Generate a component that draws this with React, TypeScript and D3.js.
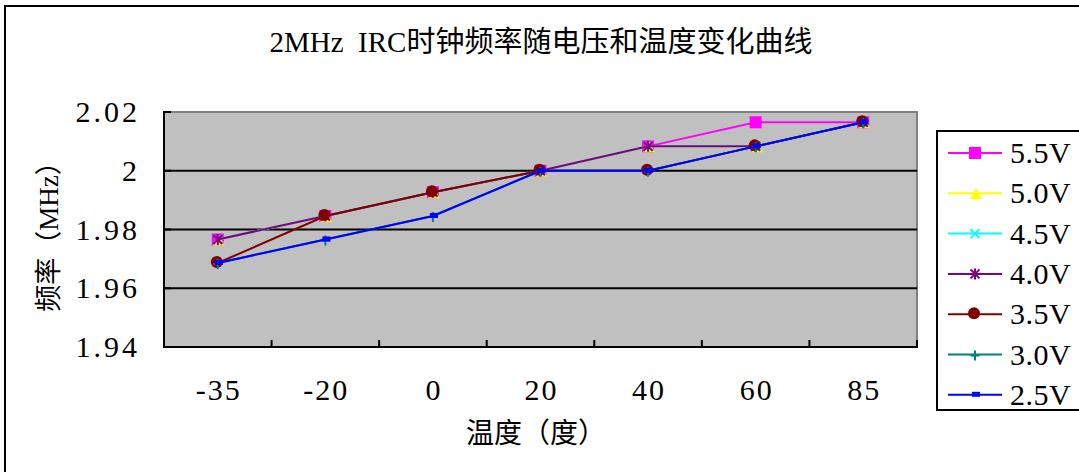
import React from "react";
import * as d3 from "d3";

const categories = ["-35", "-20", "0", "20", "40", "60", "85"];
const yTicks = [1.94, 1.96, 1.98, 2.0, 2.02];
const yTickLabels = ["1.94", "1.96", "1.98", "2", "2.02"];
const seriesNames = ["5.5V", "5.0V", "4.5V", "4.0V", "3.5V", "3.0V", "2.5V"];
const v55 = [1.9766, 1.9846, 1.9927, 2.0, 2.0083, 2.0165, 2.0165];
const v50 = [1.9766, 1.9846, 1.9927, 2.0, 2.0083, 2.0083, 2.0165];
const v45 = [1.9766, 1.9846, 1.9927, 2.0, 2.0083, 2.0083, 2.0165];
const v40 = [1.9766, 1.9846, 1.9927, 2.0, 2.0083, 2.0083, 2.0165];
const v35 = [1.9686, 1.9846, 1.9927, 2.0, 2.0, 2.0083, 2.0165];
const v30 = [1.9686, 1.9766, 1.9846, 2.0, 2.0, 2.0083, 2.0165];
const v25 = [1.9686, 1.9766, 1.9846, 2.0, 2.0, 2.0083, 2.0165];
const seriesValues = [v55, v50, v45, v40, v35, v30, v25];

const title = "2MHz  IRC时钟频率随电压和温度变化曲线";
const xTitle = "温度（度）";
const yTitle = "频率（MHz）";

const colors = ["#FF00FF", "#FFFF00", "#00FFFF", "#800080", "#800000", "#008080", "#0000FF"];
const markerTypes = ["square", "triangle", "x", "asterisk", "circle", "plus", "dash"];

const W = 1079;
const H = 472;
const plot = { left: 164, right: 917, top: 112, bottom: 347 };
const FONT = "'Liberation Serif', 'Noto Sans CJK SC', serif";

function Marker({ type, color, x, y }: { type: string; color: string; x: number; y: number }) {
  const s = 4.5;
  switch (type) {
    case "square":
      return <rect x={x - 6} y={y - 6} width={12} height={12} fill={color} />;
    case "triangle":
      return <path d={`M${x + 1},${y - 5}L${x + 7},${y + 6}L${x - 5},${y + 6}Z`} fill={color} />;
    case "x":
      return (
        <path d={`M${x - s},${y - s}L${x + s},${y + s}M${x - s},${y + s}L${x + s},${y - s}`} stroke={color} strokeWidth={2} fill="none" />
      );
    case "asterisk":
      return (
        <path
          d={`M${x - s},${y - s}L${x + s},${y + s}M${x - s},${y + s}L${x + s},${y - s}M${x},${y - 5.5}L${x},${y + 5.5}`}
          stroke={color}
          strokeWidth={2}
          fill="none"
        />
      );
    case "circle":
      return <circle cx={x - 1} cy={y - 1} r={6} fill={color} />;
    case "plus":
      return <path d={`M${x - s},${y + 1}L${x + s},${y + 1}M${x},${y - 4}L${x},${y + 6}`} stroke={color} strokeWidth={2} fill="none" />;
    default:
      return <rect x={x - 3} y={y - 3} width={8} height={5} fill={color} />;
  }
}

export default function App() {
  const x = d3.scaleBand<string>().domain(categories).range([plot.left, plot.right]);
  const y = d3.scaleLinear().domain([1.94, 2.02]).range([plot.bottom, plot.top]);
  const cx = (c: string) => (x(c) as number) + x.bandwidth() / 2;
  const line = d3
    .line<number>()
    .x((_, i) => cx(categories[i]))
    .y((d) => y(d));
  const boundaries = categories.map((c) => x(c) as number).concat([plot.right]);

  const legendY0 = 153;
  const legendStep = 40.3;

  return (
    <svg
      width={W}
      height={H}
      style={{ position: "absolute", left: 0, top: 0, background: "#fff" }}
      fontFamily={FONT}
    >
      <rect x={0} y={0} width={W} height={H} fill="#fff" />
      <rect x={5} y={6} width={1200} height={700} fill="none" stroke="#000" strokeWidth={2} />

      <text x={541} y={52} fontSize={29} textAnchor="middle" fill="#000" style={{ whiteSpace: "pre" }}>
        {title}
      </text>

      {/* plot area */}
      <rect x={plot.left} y={plot.top} width={plot.right - plot.left} height={plot.bottom - plot.top} fill="#C0C0C0" />
      <path
        d={`M${plot.left},${plot.top}L${plot.right},${plot.top}L${plot.right},${plot.bottom}`}
        stroke="#808080"
        strokeWidth={2}
        fill="none"
      />
      {yTicks
        .filter((t) => t > 1.94 && t < 2.02)
        .map((t) => (
          <line key={t} x1={plot.left} x2={plot.right} y1={y(t)} y2={y(t)} stroke="#000" strokeWidth={2} />
        ))}
      {yTicks.map((t) => (
        <line key={"yt" + t} x1={plot.left} x2={plot.left + 7} y1={y(t)} y2={y(t)} stroke="#000" strokeWidth={2} />
      ))}
      {boundaries.map((b, i) => (
        <line key={"xt" + i} x1={b} x2={b} y1={plot.bottom} y2={plot.bottom - 7} stroke="#000" strokeWidth={2} />
      ))}
      <line x1={plot.left} x2={plot.left} y1={plot.top - 1} y2={plot.bottom + 1} stroke="#000" strokeWidth={2} />
      <line x1={plot.left - 1} x2={plot.right + 1} y1={plot.bottom} y2={plot.bottom} stroke="#000" strokeWidth={2} />

      {/* series */}
      {seriesValues.map((vals, si) => (
        <g key={seriesNames[si]}>
          <path d={line(vals) as string} stroke={colors[si]} strokeWidth={2} fill="none" />
          {vals.map((v, i) => (
            <Marker key={i} type={markerTypes[si]} color={colors[si]} x={cx(categories[i])} y={y(v)} />
          ))}
        </g>
      ))}

      {/* y tick labels */}
      {yTicks.map((t, i) => (
        <text key={"yl" + t} x={140} y={y(t) + 10} fontSize={30} letterSpacing={3} textAnchor="end" fill="#000">
          {yTickLabels[i]}
        </text>
      ))}
      {/* x tick labels */}
      {categories.map((c) => (
        <text key={"xl" + c} x={cx(c) + 1} y={400} fontSize={30} letterSpacing={2} textAnchor="middle" fill="#000">
          {c}
        </text>
      ))}

      <text x={536} y={443} fontSize={28} textAnchor="middle" fill="#000">
        {xTitle}
      </text>
      <text
        transform={`translate(49, 230) rotate(-90)`}
        fontSize={27}
        textAnchor="middle"
        dominantBaseline="central"
        fill="#000"
      >
        {yTitle}
      </text>

      {/* legend */}
      <rect x={937} y={131} width={300} height={279} fill="#fff" stroke="#000" strokeWidth={2} />
      {seriesNames.map((n, i) => {
        const ly = legendY0 + i * legendStep;
        return (
          <g key={"lg" + n}>
            <line x1={948} x2={1002} y1={ly} y2={ly} stroke={colors[i]} strokeWidth={2} />
            <Marker type={markerTypes[i]} color={colors[i]} x={975} y={ly} />
            <text x={1010} y={ly + 10} fontSize={30} letterSpacing={0.5} fill="#000">
              {n}
            </text>
          </g>
        );
      })}
    </svg>
  );
}
